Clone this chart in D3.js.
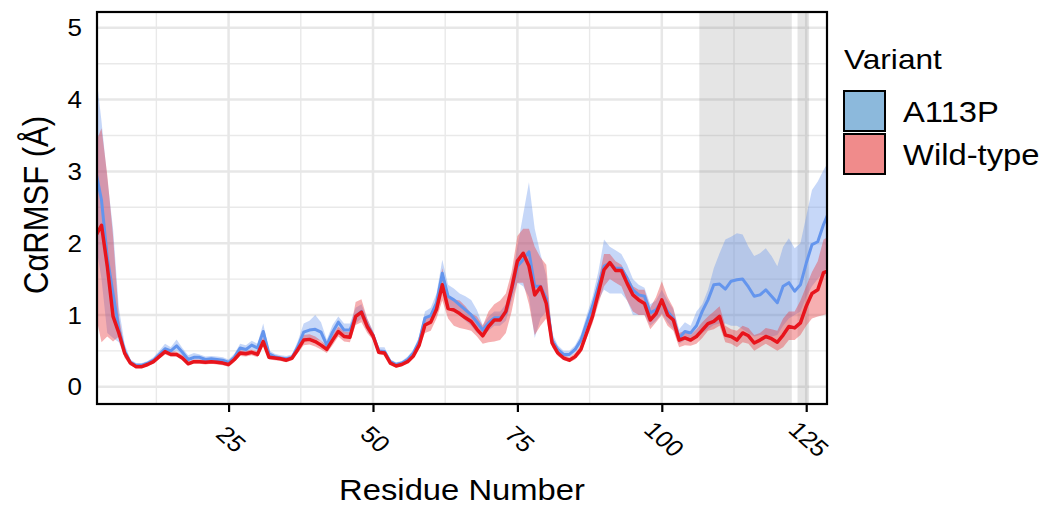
<!DOCTYPE html>
<html>
<head>
<meta charset="utf-8">
<script src="https://cdn.jsdelivr.net/npm/d3@7"></script>
<style>
  body { margin: 0; background: #fff; }
  text { font-family: "Liberation Sans", Arial, sans-serif; fill: #000; }
</style>
</head>
<body>
<div id="chart"></div>
<script>
// residue numbers (x)
const residues = d3.range(2, 130)

// A113P mean RMSF and ribbon bounds
const blueMean = [
  3.00, 2.60, 1.80, 1.30, 0.80, 0.50, 0.34, 0.30, 0.30, 0.33,
  0.37, 0.45, 0.53, 0.50, 0.57, 0.48, 0.38, 0.41, 0.41, 0.38,
  0.39, 0.38, 0.37, 0.34, 0.41, 0.54, 0.52, 0.58, 0.54, 0.77,
  0.46, 0.42, 0.40, 0.39, 0.41, 0.56, 0.76, 0.79, 0.80, 0.76,
  0.58, 0.76, 0.90, 0.79, 0.79, 0.98, 1.05, 0.86, 0.72, 0.50,
  0.49, 0.35, 0.31, 0.33, 0.38, 0.47, 0.63, 0.96, 0.99, 1.17,
  1.58, 1.26, 1.21, 1.14, 1.07, 1.00, 0.90, 0.79, 0.89, 0.96,
  0.96, 1.03, 1.35, 1.68, 1.77, 1.88, 1.40, 1.40, 1.23, 0.65,
  0.52, 0.45, 0.45, 0.52, 0.65, 0.89, 1.12, 1.40, 1.68, 1.72,
  1.65, 1.65, 1.51, 1.35, 1.28, 1.26, 1.03, 1.07, 1.19, 1.05,
  0.95, 0.68, 0.77, 0.75, 0.85, 1.05, 1.21, 1.42, 1.43, 1.36,
  1.47, 1.49, 1.50, 1.39, 1.26, 1.28, 1.35, 1.26, 1.17, 1.40,
  1.45, 1.33, 1.42, 1.72, 1.98, 2.02, 2.26, 2.45
]
const blueLo = [
  2.00, 1.50, 0.75, 0.68, 0.62, 0.42, 0.30, 0.27, 0.27, 0.30,
  0.33, 0.40, 0.47, 0.45, 0.50, 0.43, 0.34, 0.37, 0.37, 0.35,
  0.35, 0.34, 0.33, 0.31, 0.37, 0.48, 0.47, 0.52, 0.48, 0.66,
  0.42, 0.39, 0.37, 0.36, 0.38, 0.50, 0.66, 0.68, 0.66, 0.64,
  0.52, 0.67, 0.80, 0.70, 0.70, 0.88, 0.95, 0.78, 0.66, 0.46,
  0.45, 0.32, 0.29, 0.30, 0.35, 0.43, 0.57, 0.85, 0.88, 1.05,
  1.40, 1.10, 1.05, 1.00, 0.92, 0.85, 0.75, 0.72, 0.78, 0.85,
  0.85, 0.92, 1.20, 1.45, 1.40, 1.25, 0.68, 0.95, 1.05, 0.58,
  0.47, 0.41, 0.41, 0.47, 0.58, 0.80, 1.00, 1.20, 1.35, 1.30,
  1.30, 1.30, 1.20, 1.00, 1.00, 1.00, 0.85, 0.92, 1.02, 0.90,
  0.80, 0.60, 0.65, 0.62, 0.68, 0.75, 0.80, 0.86, 0.88, 0.88,
  0.85, 0.85, 0.80, 0.75, 0.70, 0.72, 0.72, 0.70, 0.72, 0.85,
  0.95, 1.00, 1.05, 1.25, 1.40, 1.50, 1.60, 1.70
]
const blueHi = [
  4.40, 3.70, 2.90, 2.20, 1.10, 0.60, 0.38, 0.33, 0.33, 0.36,
  0.41, 0.50, 0.60, 0.55, 0.66, 0.54, 0.44, 0.47, 0.45, 0.42,
  0.43, 0.42, 0.41, 0.38, 0.46, 0.60, 0.58, 0.64, 0.60, 0.88,
  0.51, 0.46, 0.44, 0.43, 0.45, 0.64, 0.88, 0.92, 1.00, 0.90,
  0.66, 0.86, 0.98, 0.88, 0.88, 1.10, 1.15, 0.95, 0.78, 0.55,
  0.55, 0.38, 0.34, 0.36, 0.42, 0.52, 0.70, 1.05, 1.10, 1.30,
  1.77, 1.42, 1.37, 1.30, 1.26, 1.21, 1.07, 0.86, 0.98, 1.05,
  1.05, 1.15, 1.50, 1.95, 2.40, 2.85, 2.20, 1.85, 1.55, 0.75,
  0.58, 0.50, 0.50, 0.58, 0.73, 1.00, 1.25, 1.60, 2.05, 1.95,
  1.90, 1.85, 1.70, 1.50, 1.42, 1.38, 1.15, 1.20, 1.35, 1.20,
  1.08, 0.80, 0.90, 0.85, 1.05, 1.15, 1.35, 1.65, 1.86, 2.05,
  2.09, 2.14, 2.12, 1.95, 1.82, 1.86, 1.93, 1.82, 1.68, 1.95,
  2.07, 1.93, 2.00, 2.37, 2.74, 2.86, 3.02, 3.15
]

// Wild-type mean RMSF and ribbon bounds
const redMean = [
  2.10, 2.25, 1.68, 0.98, 0.75, 0.47, 0.33, 0.28, 0.28, 0.31,
  0.35, 0.42, 0.49, 0.45, 0.45, 0.40, 0.32, 0.35, 0.35, 0.34,
  0.35, 0.34, 0.33, 0.31, 0.38, 0.47, 0.46, 0.48, 0.45, 0.63,
  0.41, 0.40, 0.39, 0.37, 0.40, 0.52, 0.65, 0.66, 0.63, 0.58,
  0.52, 0.65, 0.77, 0.70, 0.69, 0.98, 1.04, 0.84, 0.71, 0.48,
  0.47, 0.33, 0.29, 0.31, 0.35, 0.43, 0.58, 0.86, 0.90, 1.08,
  1.42, 1.09, 1.07, 1.02, 0.96, 0.91, 0.80, 0.71, 0.84, 0.93,
  0.93, 1.05, 1.37, 1.75, 1.86, 1.68, 1.28, 1.39, 1.16, 0.61,
  0.47, 0.40, 0.37, 0.42, 0.52, 0.75, 0.98, 1.30, 1.63, 1.73,
  1.62, 1.62, 1.44, 1.28, 1.21, 1.16, 0.93, 1.02, 1.21, 1.00,
  0.93, 0.65, 0.68, 0.65, 0.70, 0.79, 0.88, 0.91, 0.98, 0.72,
  0.70, 0.65, 0.75, 0.71, 0.61, 0.65, 0.70, 0.67, 0.62, 0.72,
  0.84, 0.82, 0.89, 1.12, 1.30, 1.35, 1.59, 1.62
]
const redLo = [
  1.00, 0.62, 0.70, 0.63, 0.70, 0.40, 0.30, 0.26, 0.26, 0.29,
  0.32, 0.39, 0.45, 0.42, 0.42, 0.37, 0.30, 0.32, 0.32, 0.31,
  0.32, 0.31, 0.30, 0.28, 0.34, 0.43, 0.42, 0.44, 0.41, 0.57,
  0.38, 0.37, 0.36, 0.34, 0.37, 0.47, 0.58, 0.59, 0.56, 0.52,
  0.47, 0.58, 0.70, 0.63, 0.62, 0.86, 0.90, 0.75, 0.65, 0.45,
  0.44, 0.31, 0.27, 0.29, 0.33, 0.40, 0.54, 0.75, 0.78, 0.95,
  1.20, 0.95, 0.85, 0.82, 0.80, 0.78, 0.70, 0.60, 0.62, 0.63,
  0.65, 0.75, 1.05, 1.45, 1.45, 1.15, 0.72, 0.85, 0.95, 0.55,
  0.43, 0.37, 0.34, 0.38, 0.47, 0.68, 0.88, 1.15, 1.40, 1.50,
  1.45, 1.40, 1.20, 1.05, 1.00, 1.00, 0.80, 0.90, 1.00, 0.85,
  0.78, 0.55, 0.58, 0.57, 0.60, 0.68, 0.78, 0.80, 0.85, 0.62,
  0.60, 0.55, 0.62, 0.60, 0.50, 0.55, 0.60, 0.55, 0.50, 0.55,
  0.65, 0.65, 0.72, 0.85, 0.95, 0.98, 1.00, 1.02
]
const redHi = [
  3.40, 3.60, 2.95, 2.10, 0.98, 0.52, 0.36, 0.30, 0.30, 0.33,
  0.38, 0.46, 0.53, 0.49, 0.49, 0.44, 0.35, 0.38, 0.38, 0.37,
  0.38, 0.37, 0.36, 0.34, 0.42, 0.51, 0.50, 0.52, 0.49, 0.69,
  0.45, 0.43, 0.42, 0.40, 0.43, 0.57, 0.72, 0.73, 0.70, 0.64,
  0.57, 0.72, 0.84, 0.77, 0.76, 1.18, 1.22, 0.95, 0.77, 0.52,
  0.50, 0.36, 0.31, 0.33, 0.38, 0.46, 0.63, 0.95, 1.00, 1.20,
  1.65, 1.25, 1.22, 1.20, 1.12, 1.02, 0.98, 0.85, 1.05, 1.15,
  1.20, 1.30, 1.60, 2.10, 2.20, 2.20, 1.95, 1.80, 1.70, 0.70,
  0.52, 0.44, 0.41, 0.47, 0.58, 0.83, 1.10, 1.48, 1.85, 1.85,
  1.75, 1.70, 1.55, 1.40, 1.35, 1.35, 1.10, 1.25, 1.47, 1.25,
  1.10, 0.75, 0.78, 0.72, 0.80, 0.90, 0.98, 1.05, 1.12, 0.85,
  0.80, 0.78, 0.85, 0.82, 0.72, 0.75, 0.82, 0.80, 0.78, 0.95,
  1.05, 1.05, 1.20, 1.40, 1.60, 1.75, 2.05, 2.10
]

// shaded residue ranges
const shadedRanges = [[106.5, 122.5], [123.5, 125.5]]

const xTicks = [25, 50, 75, 100, 125]
const yTicks = [0, 1, 2, 3, 4, 5]
const variants = ['A113P', 'Wild-type']
const keyFills = ['#8cb9dc', '#f08b8b']

function draw() {
  const width = 1050, height = 512
  const SX = 1.13 // text in the reference is a bit wide

  const svg = d3.select('#chart').append('svg')
    .attr('width', width)
    .attr('height', height)

  const xScale = d3.scaleLinear().domain([2.22, 128.6]).range([97, 827])
  const yScale = d3.scaleLinear().domain([-0.24, 5.22]).range([404, 12])

  svg.append('defs').append('clipPath').attr('id', 'clip')
    .append('rect')
    .attr('x', 97).attr('y', 12)
    .attr('width', 730).attr('height', 392)

  const panel = svg.append('g').attr('clip-path', 'url(#clip)')

  // grid
  const yMinor = [0.5, 1.5, 2.5, 3.5, 4.5]
  const xMinor = [12.5, 37.5, 62.5, 87.5, 112.5]
  panel.selectAll('.ymin').data(yMinor).join('line')
    .attr('x1', 97).attr('x2', 827)
    .attr('y1', d => yScale(d)).attr('y2', d => yScale(d))
    .attr('stroke', '#e9e9e9').attr('stroke-width', 1.4)
  panel.selectAll('.xmin').data(xMinor).join('line')
    .attr('y1', 12).attr('y2', 404)
    .attr('x1', d => xScale(d)).attr('x2', d => xScale(d))
    .attr('stroke', '#e9e9e9').attr('stroke-width', 1.4)
  panel.selectAll('.ymaj').data(yTicks).join('line')
    .attr('x1', 97).attr('x2', 827)
    .attr('y1', d => yScale(d)).attr('y2', d => yScale(d))
    .attr('stroke', '#e7e7e7').attr('stroke-width', 2.5)
  panel.selectAll('.xmaj').data(xTicks).join('line')
    .attr('y1', 12).attr('y2', 404)
    .attr('x1', d => xScale(d)).attr('x2', d => xScale(d))
    .attr('stroke', '#e7e7e7').attr('stroke-width', 2.5)

  // shaded regions
  panel.selectAll('.shade').data(shadedRanges).join('rect')
    .attr('x', d => xScale(d[0]))
    .attr('width', d => xScale(d[1]) - xScale(d[0]))
    .attr('y', 12).attr('height', 392)
    .attr('fill', '#7f7f7f').attr('opacity', 0.2)

  const blue = residues.map((r, i) => ({ r, m: blueMean[i], lo: blueLo[i], hi: blueHi[i] }))
  const red = residues.map((r, i) => ({ r, m: redMean[i], lo: redLo[i], hi: redHi[i] }))

  const area = d3.area()
    .x(d => xScale(d.r))
    .y0(d => yScale(d.lo))
    .y1(d => yScale(d.hi))
  const line = d3.line()
    .x(d => xScale(d.r))
    .y(d => yScale(d.m))

  panel.append('path').datum(blue).attr('d', area)
    .attr('fill', '#6a95ec').attr('opacity', 0.38)
  panel.append('path').datum(red).attr('d', area)
    .attr('fill', '#e8383c').attr('opacity', 0.4)
  panel.append('path').datum(blue).attr('d', line)
    .attr('fill', 'none').attr('stroke', '#6495ed').attr('stroke-width', 3)
    .attr('stroke-linejoin', 'round')
  panel.append('path').datum(red).attr('d', line)
    .attr('fill', 'none').attr('stroke', '#e8141c').attr('stroke-width', 3.5)
    .attr('stroke-linejoin', 'round')

  // panel border
  svg.append('rect')
    .attr('x', 97).attr('y', 12).attr('width', 730).attr('height', 392)
    .attr('fill', 'none').attr('stroke', '#000').attr('stroke-width', 2.2)

  // x axis
  const xAxis = svg.append('g')
    .attr('transform', 'translate(0,404)')
    .call(d3.axisBottom(xScale).tickValues(xTicks).tickSize(8).tickSizeOuter(0))
  xAxis.select('.domain').remove()
  xAxis.selectAll('.tick line').attr('stroke', '#000').attr('stroke-width', 2.2)
  xAxis.selectAll('.tick text')
    .attr('y', null).attr('dy', '0.35em')
    .attr('text-anchor', 'middle')
    .attr('transform', `translate(2,35) scale(${SX},1) rotate(45)`)
    .style('font-size', '23px')

  // y axis
  const yAxis = svg.append('g')
    .attr('transform', 'translate(97,0)')
    .call(d3.axisLeft(yScale).tickValues(yTicks).tickSize(0).tickFormat(d3.format('d')))
  yAxis.select('.domain').remove()
  yAxis.selectAll('.tick text')
    .attr('x', null).attr('dy', '0.35em')
    .attr('text-anchor', 'end')
    .attr('transform', `translate(-15,0) scale(${SX},1)`)
    .style('font-size', '23px')

  // axis titles
  svg.append('text')
    .attr('transform', `translate(462,500) scale(${SX},1)`)
    .attr('text-anchor', 'middle')
    .style('font-size', '29px')
    .text('Residue Number')
  svg.append('text')
    .attr('transform', `translate(48,205) scale(${SX},1) rotate(-90)`)
    .attr('text-anchor', 'middle')
    .style('font-size', '31px')
    .text('CαRMSF (Å)')

  // legend
  const legend = svg.append('g')
  legend.append('text')
    .attr('transform', `translate(844,69) scale(${SX},1)`)
    .style('font-size', '28px')
    .text('Variant')
  const items = legend.selectAll('.item').data(variants).join('g')
    .attr('transform', (d, i) => `translate(844,${91 + i * 43})`)
  items.append('rect')
    .attr('width', 41).attr('height', 40)
    .attr('fill', (d, i) => keyFills[i])
    .attr('stroke', '#000').attr('stroke-width', 2)
  items.append('text')
    .attr('transform', `translate(59,31) scale(${SX},1)`)
    .style('font-size', '29px')
    .text(d => d)
}

draw()
</script>
</body>
</html>
